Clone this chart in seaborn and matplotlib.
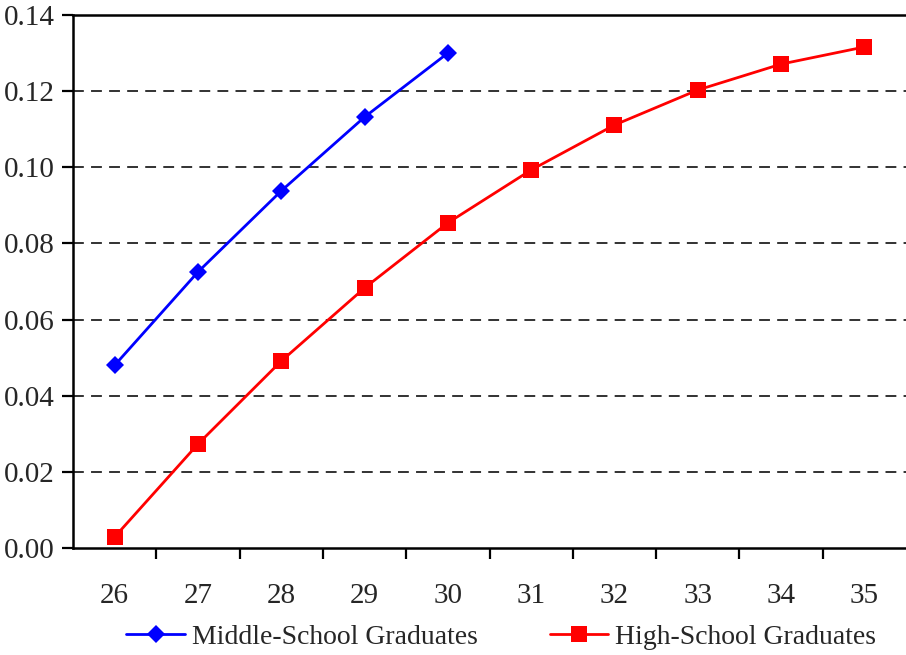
import matplotlib
matplotlib.use("Agg")
import matplotlib.pyplot as plt
import seaborn as sns
import pandas as pd
import numpy as np

ages = ["26", "27", "28", "29", "30", "31", "32", "33", "34", "35"]
middle_school = [0.0480, 0.0725, 0.0938, 0.1132, 0.1300]
high_school = [0.0029, 0.0273, 0.0491, 0.0683, 0.0854, 0.0993, 0.1111, 0.1203, 0.1271, 0.1316]
y_ticks = [0.00, 0.02, 0.04, 0.06, 0.08, 0.10, 0.12, 0.14]

sns.set_theme(style="white")
plt.rcParams["font.family"] = ["Liberation Serif", "DejaVu Serif"]

df = pd.concat([
    pd.DataFrame({"age": ages[:len(middle_school)], "value": middle_school,
                  "series": "Middle-School Graduates"}),
    pd.DataFrame({"age": ages, "value": high_school,
                  "series": "High-School Graduates"}),
])
df["pos"] = df["age"].map({a: i for i, a in enumerate(ages)})

fig = plt.figure(figsize=(9.06, 6.55), dpi=100)
ax = fig.add_axes([73 / 906, 1 - 548 / 655, 1 - 73 / 906, (548 - 15) / 655])

sns.lineplot(data=df, x="pos", y="value", hue="series", style="series",
             palette={"Middle-School Graduates": "#0000ff",
                      "High-School Graduates": "#ff0000"},
             markers={"Middle-School Graduates": "D",
                      "High-School Graduates": "s"},
             dashes=False, markersize=9, linewidth=2.0,
             markeredgewidth=0, ax=ax, legend=True)

for line in ax.get_lines():
    if line.get_marker() == "D":
        line.set_markersize(9.5)
    elif line.get_marker() == "s":
        line.set_markersize(11.5)

ax.set_xlim(-0.5, len(ages) - 0.5)
ax.set_ylim(0, 0.14)
ax.set_yticks(y_ticks)
ax.set_yticklabels([f"{v:.2f}" for v in y_ticks], fontsize=21)
ax.set_xticks(range(len(ages)))
ax.set_xticklabels(ages, fontsize=21)
ax.set_xticks(np.arange(0.5, len(ages) - 0.5, 1.0), minor=True)
ax.tick_params(axis="x", which="major", length=0, pad=25)
ax.tick_params(axis="x", which="minor", length=8, width=1.6, color="black", direction="out")
ax.tick_params(axis="y", which="major", length=8, width=1.6, color="black", direction="out", pad=5)
ax.xaxis.set_ticks_position("bottom")
ax.yaxis.set_ticks_position("left")

for y in y_ticks[1:-1]:
    ax.axhline(y, color="#222222", linestyle=(0, (6, 4)), linewidth=1.3, zorder=0)

for side in ["left", "bottom", "top"]:
    ax.spines[side].set_visible(True)
    ax.spines[side].set_color("black")
    ax.spines[side].set_linewidth(1.8)
ax.spines["right"].set_visible(False)

ax.set_xlabel("")
ax.set_ylabel("")

handles, labels = ax.get_legend_handles_labels()
ax.legend(handles, labels, loc="center", bbox_to_anchor=(0.514, -0.167),
          ncol=2, frameon=False, fontsize=20, handlelength=2.1,
          columnspacing=2.6, handletextpad=0.25)

fig.savefig("out.png", dpi=100)
